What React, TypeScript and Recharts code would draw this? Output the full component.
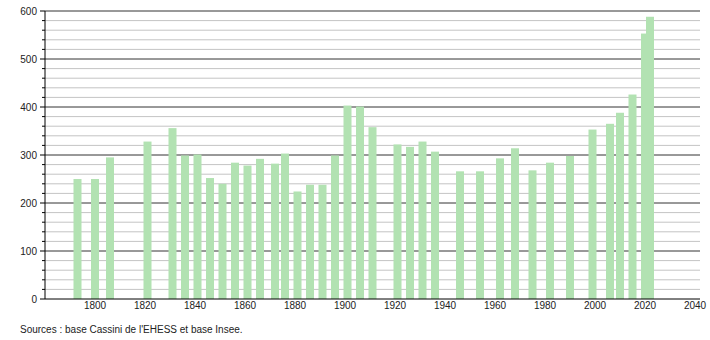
import React from 'react';
import { BarChart, Bar, XAxis, YAxis, CartesianGrid } from 'recharts';

// census years and population
const years = [
    1793, 1800, 1806, 1821, 1831, 1836, 1841, 1846, 1851, 1856, 1861, 1866, 1872, 1876, 1881, 1886, 1891, 1896,
    1901, 1906, 1911, 1921, 1926, 1931, 1936, 1946, 1954, 1962, 1968, 1975, 1982, 1990, 1999, 2006, 2010, 2015,
    2020, 2022,
];
const population = [
    250, 250, 295, 328, 356, 299, 301, 252, 240, 284, 278, 292, 282, 303, 224, 238, 238, 299,
    403, 401, 358, 322, 317, 328, 307, 266, 266, 293, 314, 268, 284, 298, 353, 365, 388, 426,
    553, 588,
];
const xTicks = [1800, 1820, 1840, 1860, 1880, 1900, 1920, 1940, 1960, 1980, 2000, 2020, 2040];
const yMajor = [0, 100, 200, 300, 400, 500, 600];
const yMinor = [20, 40, 60, 80, 120, 140, 160, 180, 220, 240, 260, 280, 320, 340, 360, 380, 420, 440, 460, 480, 520, 540, 560, 580];
const yAllTicks = [...yMajor, ...yMinor].sort((a, b) => a - b);
const sourceText = "Sources : base Cassini de l'EHESS et base Insee.";

const data = years.map((year, i) => ({ year, pop: population[i] }));

const FONT = '"Liberation Sans", Arial, sans-serif';
const BAR_W = 8;

const YTick = (props: any) => {
    const { x, y, payload } = props;
    const major = payload.value % 100 === 0;
    return (
        <g>
            <line x1={major ? x - 5 : x - 3} x2={x} y1={y} y2={y} stroke="#000" />
            {major && (
                <text x={x - 8} y={y} dy="0.35em" textAnchor="end" fontSize={10} fontFamily={FONT} fill="#222">
                    {payload.value}
                </text>
            )}
        </g>
    );
};

// recharts squeezes the bars to the smallest year gap, so widen them around their centre
const WideBar = (props: any) => {
    const { x, y, width, height, fill } = props;
    if (height == null || height <= 0) return null;
    const cx = x + width / 2;
    return <rect x={cx - BAR_W / 2} y={y} width={BAR_W} height={height} fill={fill} />;
};

const App: React.FC = () => {
    return (
        <div style={{ position: 'absolute', left: 0, top: 0, width: 710, height: 340, background: '#fff' }}>
            <BarChart width={710} height={340} data={data} margin={{ top: 11, right: 10, bottom: 21, left: 0 }}>
                <CartesianGrid vertical={false} horizontalValues={yMinor} stroke="#c4c4c4" />
                <CartesianGrid vertical={false} horizontalValues={yMajor.slice(1)} stroke="#333" />
                <XAxis
                    dataKey="year"
                    type="number"
                    domain={[1780, 2042]}
                    ticks={xTicks}
                    interval={0}
                    tickLine={false}
                    tickSize={0}
                    tickMargin={3}
                    axisLine={{ stroke: '#000' }}
                    height={20}
                    tick={{ fontSize: 10, fontFamily: FONT, fill: '#222' }}
                />
                <YAxis
                    domain={[0, 600]}
                    ticks={yAllTicks}
                    interval={0}
                    width={45}
                    tickLine={false}
                    tickSize={0}
                    tickMargin={0}
                    axisLine={{ stroke: '#000' }}
                    tick={<YTick />}
                />
                <Bar dataKey="pop" fill="#b2e2b2" shape={<WideBar />} isAnimationActive={false} />
            </BarChart>
            <div
                style={{
                    position: 'absolute',
                    left: 20,
                    top: 324,
                    fontSize: 10,
                    fontFamily: FONT,
                    color: '#222',
                    whiteSpace: 'nowrap',
                }}
            >
                {sourceText}
            </div>
        </div>
    );
};

export default App;
